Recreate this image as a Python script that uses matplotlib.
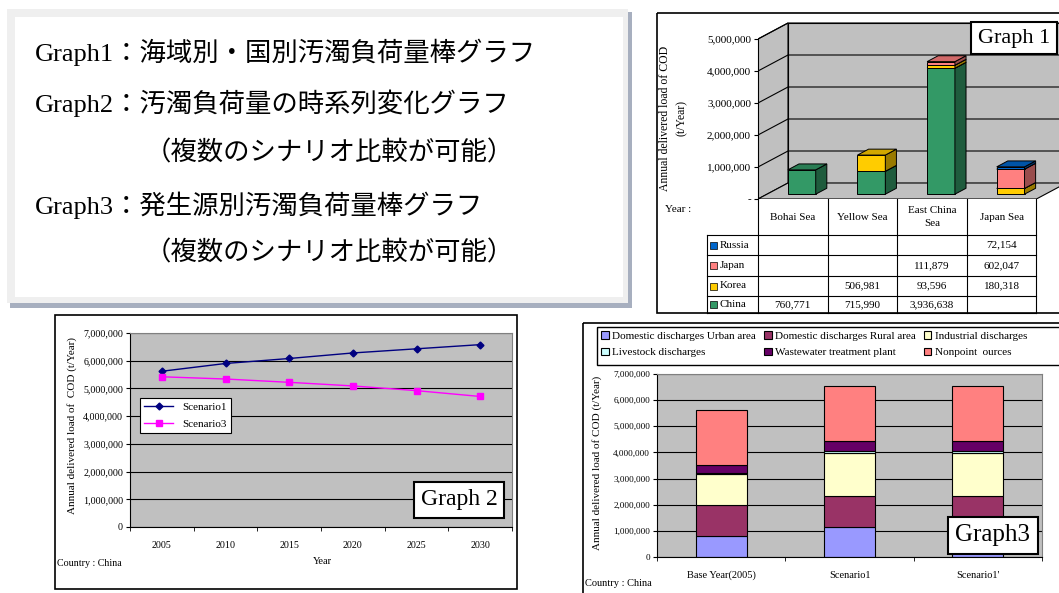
import matplotlib.pyplot as plt
import matplotlib.colors as mcolors
from matplotlib.patches import Polygon, Rectangle

plt.rcParams['font.family'] = ['Liberation Serif', 'Noto Sans CJK JP']

# --- data -------------------------------------------------------------
# Graph1: load by sea area and country (t/Year)
seas = ['Bohai Sea', 'Yellow Sea', 'East China\nSea', 'Japan Sea']
countries = ['China', 'Korea', 'Japan', 'Russia']
china = [760771, 715990, 3936638, 0]
korea = [0, 506981, 93596, 180318]
japan = [0, 0, 111879, 602047]
russia = [0, 0, 0, 72154]
country_colors = ['#339966', '#ffcc00', '#ff8080', '#0066cc']

# Graph2: time series for China
years = [2005, 2010, 2015, 2020, 2025, 2030]
scenario1 = [5620000, 5900000, 6080000, 6280000, 6430000, 6580000]
scenario3 = [5420000, 5340000, 5220000, 5090000, 4920000, 4710000]

# Graph3: load by source
scenarios = ['Base Year(2005)', 'Scenario1', "Scenario1'"]
sources = ['Domestic discharges Urban area', 'Domestic discharges Rural area',
           'Industrial discharges', 'Livestock discharges',
           'Wastewater treatment plant', 'Nonpoint  ources']
urban = [790000, 1150000, 1150000]
rural = [1210000, 1200000, 1200000]
industrial = [1190000, 1630000, 1630000]
livestock = [30000, 60000, 60000]
wwtp = [290000, 390000, 390000]
nonpoint = [2100000, 2100000, 2100000]
source_colors = ['#9999ff', '#993366', '#ffffcc', '#ccffff', '#660066', '#ff8080']

intro = ['Graph1：海域別・国別汚濁負荷量棒グラフ',
         'Graph2：汚濁負荷量の時系列変化グラフ',
         '（複数のシナリオ比較が可能）',
         'Graph3：発生源別汚濁負荷量棒グラフ',
         '（複数のシナリオ比較が可能）']

# --- layout helpers (pixel based) --------------------------------------
W, H = 1059, 593
fig = plt.figure(figsize=(W / 100, H / 100), dpi=100)


def box(x0, y0, x1, y1):
    return [x0 / W, 1 - y1 / H, (x1 - x0) / W, (y1 - y0) / H]


def label(x, y, s, **kw):
    return fig.text(x / W, 1 - y / H, s, **kw)


def fmt(v):
    return f'{int(v):,}'


# background: text box and panel frames
bg = fig.add_axes([0, 0, 1, 1])
bg.set_xlim(0, W)
bg.set_ylim(H, 0)
bg.axis('off')
bg.add_patch(Rectangle((10, 12), 622, 296, fc='#a7afbf', ec='none'))
bg.add_patch(Rectangle((7, 9), 621, 294, fc='#efefef', ec='none'))
bg.add_patch(Rectangle((15, 17), 608, 280, fc='white', ec='none'))
for (x, y), s in zip([(35, 52), (35, 103), (145, 153), (35, 205), (145, 253)], intro):
    bg.text(x, y, s, fontsize=19, va='center', ha='left')
bg.add_patch(Rectangle((657, 13), 420, 300, fill=False, ec='black', lw=1.2))
bg.add_patch(Rectangle((55, 315), 462, 274, fill=False, ec='black', lw=1.2))
bg.add_patch(Rectangle((583, 323), 500, 300, fill=False, ec='black', lw=1.2))
bg.add_patch(Rectangle((597, 327), 480, 38, fill=False, ec='black', lw=1))

# --- Graph1: pseudo 3D stacked columns ---------------------------------
COL = 69.6          # px per sea column
DX, DY = 30 / COL, 0.5e6   # depth offset of the back wall
D0, D1 = 0.3, 0.67  # depth span of the columns
BW = 0.4
g1_ticks = [0, 1e6, 2e6, 3e6, 4e6, 5e6]
wall = '#c0c0c0'

ax1 = fig.add_axes(box(758, 18, 1059, 199))
ax1.set_xlim(0, (1059 - 758) / COL)
ax1.set_ylim(0, (199 - 18) / 32 * 1e6)
ax1.patch.set_visible(False)
n = len(seas)
top = g1_ticks[-1]
for pts in ([(DX, DY), (n + DX, DY), (n + DX, top + DY), (DX, top + DY)],
            [(0, 0), (DX, DY), (DX, top + DY), (0, top)],
            [(0, 0), (n, 0), (n + DX, DY), (DX, DY)]):
    ax1.add_patch(Polygon(pts, closed=True, fc=wall, ec='black', lw=0.8, zorder=0.5))
for v in g1_ticks[1:]:
    ax1.plot([0, DX, n + DX], [v, v + DY, v + DY], color='black', lw=0.8, zorder=0.6)


def shade(c, f):
    r, g, b = mcolors.to_rgb(c)
    return (r * f, g * f, b * f)


ddx, ddy = (D1 - D0) * DX, (D1 - D0) * DY
for i in range(n):
    bottom = 0
    for vals, c in zip([china, korea, japan, russia], country_colors):
        v = vals[i]
        if v == 0:
            continue
        x0 = i + 0.5 - BW / 2 + D0 * DX
        y0 = bottom + D0 * DY
        x1, y1 = x0 + BW, y0 + v
        ax1.bar(x0, v, width=BW, bottom=y0, align='edge', color=c,
                ec='black', lw=0.7, zorder=1)
        ax1.add_patch(Polygon([(x1, y0), (x1 + ddx, y0 + ddy), (x1 + ddx, y1 + ddy), (x1, y1)],
                              fc=shade(c, 0.6), ec='black', lw=0.7, zorder=1))
        ax1.add_patch(Polygon([(x0, y1), (x1, y1), (x1 + ddx, y1 + ddy), (x0 + ddx, y1 + ddy)],
                              fc=shade(c, 0.82), ec='black', lw=0.7, zorder=1))
        bottom += v

for s in ['top', 'right', 'bottom']:
    ax1.spines[s].set_visible(False)
ax1.spines['left'].set_bounds(0, top)
ax1.spines['left'].set_zorder(3)
ax1.set_xticks([])
ax1.set_yticks(g1_ticks)
ax1.set_yticklabels(['-'] + [fmt(v) for v in g1_ticks[1:]])
ax1.tick_params(axis='y', labelsize=8, length=3, pad=2)
label(665, 118, 'Annual delivered load of COD', rotation=90, fontsize=8.5,
      ha='center', va='center')
label(682, 118, '(t/Year)', rotation=90, fontsize=8.5, ha='center', va='center')
label(665, 210, 'Year :', fontsize=8, va='center')

# data table under Graph1
axt = fig.add_axes(box(758, 199, 1059, 315))
axt.set_xlim(ax1.get_xlim())
axt.set_ylim(116, 0)
axt.axis('off')
rows = [0, 36, 56, 77, 97, 114]
key_x = -51 / COL
for x in range(n + 1):
    axt.plot([x, x], [0, rows[-1]], color='black', lw=0.8, clip_on=False)
axt.plot([key_x, key_x], [rows[1], rows[-1]], color='black', lw=0.8, clip_on=False)
for y in rows[1:]:
    axt.plot([key_x, n], [y, y], color='black', lw=0.8, clip_on=False)
for i, s in enumerate(seas):
    axt.text(i + 0.5, 18, s, ha='center', va='center', fontsize=8, linespacing=1.5)
table_rows = list(zip(countries, [china, korea, japan, russia], country_colors))[::-1]
for r, (name, vals, c) in enumerate(table_rows):
    yc = (rows[r + 1] + rows[r + 2]) / 2
    axt.add_patch(Rectangle((key_x + 3 / COL, yc - 3.5), 7 / COL, 7, fc=c,
                            ec='black', lw=0.5, clip_on=False))
    axt.text(key_x + 13 / COL, yc, name, va='center', fontsize=8, clip_on=False)
    for i, v in enumerate(vals):
        if v:
            axt.text(i + 0.5, yc, fmt(v), ha='center', va='center', fontsize=8)

label(1014, 38, 'Graph 1', fontsize=16, ha='center', va='center',
      bbox=dict(boxstyle='square,pad=0.3', fc='white', ec='black', lw=1.5))

# --- Graph2: time series -----------------------------------------------
g_ticks = [0, 1e6, 2e6, 3e6, 4e6, 5e6, 6e6, 7e6]
ax2 = fig.add_axes(box(130, 333, 512, 527))
xs = [i + 0.5 for i in range(len(years))]
ax2.set_facecolor('#c0c0c0')
ax2.plot(xs, scenario1, color='#000080', marker='D', ms=3.5, lw=1, label='Scenario1')
ax2.plot(xs, scenario3, color='#ff00ff', marker='s', ms=4, lw=1, label='Scenario3')
ax2.set_xlim(0, len(years))
ax2.set_ylim(0, 7e6)
ax2.set_yticks(g_ticks)
ax2.set_yticklabels([fmt(v) for v in g_ticks])
ax2.set_xticks(xs)
ax2.set_xticklabels([str(y) for y in years])
ax2.set_xticks(range(len(years) + 1), minor=True)
ax2.tick_params(axis='x', which='major', length=0, pad=10, labelsize=7.2)
ax2.tick_params(axis='x', which='minor', length=3)
ax2.tick_params(axis='y', length=3, pad=2, labelsize=7.2)
ax2.grid(axis='y', color='black', lw=0.8)
ax2.set_axisbelow(True)
for s in ['top', 'right']:
    ax2.spines[s].set_color('#808080')
leg = ax2.legend(loc='upper left', bbox_to_anchor=((140 - 130) / 382, (527 - 398) / 194),
                 fontsize=8, frameon=True, fancybox=False, framealpha=1,
                 edgecolor='black', handlelength=2.6, borderpad=0.4, labelspacing=0.6,
                 borderaxespad=0)
leg.get_frame().set_linewidth(0.8)
label(72, 425, 'Annual delivered load of  COD (t/Year)', rotation=90, fontsize=8,
      ha='center', va='center')
label(322, 562, 'Year', fontsize=7.5, ha='center', va='center')
label(57, 563, 'Country : China', fontsize=7.2, va='center')
label(459, 500, 'Graph 2', fontsize=17, ha='center', va='center',
      bbox=dict(boxstyle='square,pad=0.3', fc='white', ec='black', lw=1.5))

# --- Graph3: stacked columns by source ---------------------------------
ax3 = fig.add_axes(box(657, 374, 1042, 557))
ax3.set_facecolor('#c0c0c0')
xs3 = [i + 0.5 for i in range(len(scenarios))]
bottoms = [0] * len(scenarios)
handles = []
for vals, c, name in zip([urban, rural, industrial, livestock, wwtp, nonpoint],
                         source_colors, sources):
    b = ax3.bar(xs3, vals, width=0.4, bottom=bottoms, color=c, ec='black',
                lw=0.8, label=name)
    handles.append(b)
    bottoms = [p + q for p, q in zip(bottoms, vals)]
ax3.set_xlim(0, len(scenarios))
ax3.set_ylim(0, 7e6)
ax3.set_yticks(g_ticks)
ax3.set_yticklabels([fmt(v) for v in g_ticks])
ax3.set_xticks(xs3)
ax3.set_xticklabels(scenarios)
ax3.set_xticks(range(len(scenarios) + 1), minor=True)
ax3.tick_params(axis='x', which='major', length=0, pad=10, labelsize=7.5)
ax3.tick_params(axis='x', which='minor', length=3)
ax3.tick_params(axis='y', length=3, pad=2, labelsize=6.6)
ax3.grid(axis='y', color='black', lw=0.8)
ax3.set_axisbelow(True)
for s in ['top', 'right']:
    ax3.spines[s].set_color('#808080')
# legend frame is drawn in the background so it can run off the right edge
order = [0, 3, 1, 4, 2, 5]
ax3.legend([handles[k] for k in order], [sources[k] for k in order],
           ncol=3, loc='upper left',
           bbox_to_anchor=((599 - 657) / 385, (557 - 329) / 183),
           fontsize=8, frameon=False, handlelength=0.7, handleheight=0.7,
           handletextpad=0.3, columnspacing=0.7, borderpad=0.2,
           labelspacing=0.6, borderaxespad=0)
label(597, 463, 'Annual delivered load of COD (t/Year)', rotation=90, fontsize=8,
      ha='center', va='center')
label(585, 583, 'Country : China', fontsize=7.5, va='center')
label(993, 535, 'Graph3', fontsize=18, ha='center', va='center',
      bbox=dict(boxstyle='square,pad=0.3', fc='white', ec='black', lw=1.5))

fig.savefig('out.png', dpi=100, facecolor='white')
